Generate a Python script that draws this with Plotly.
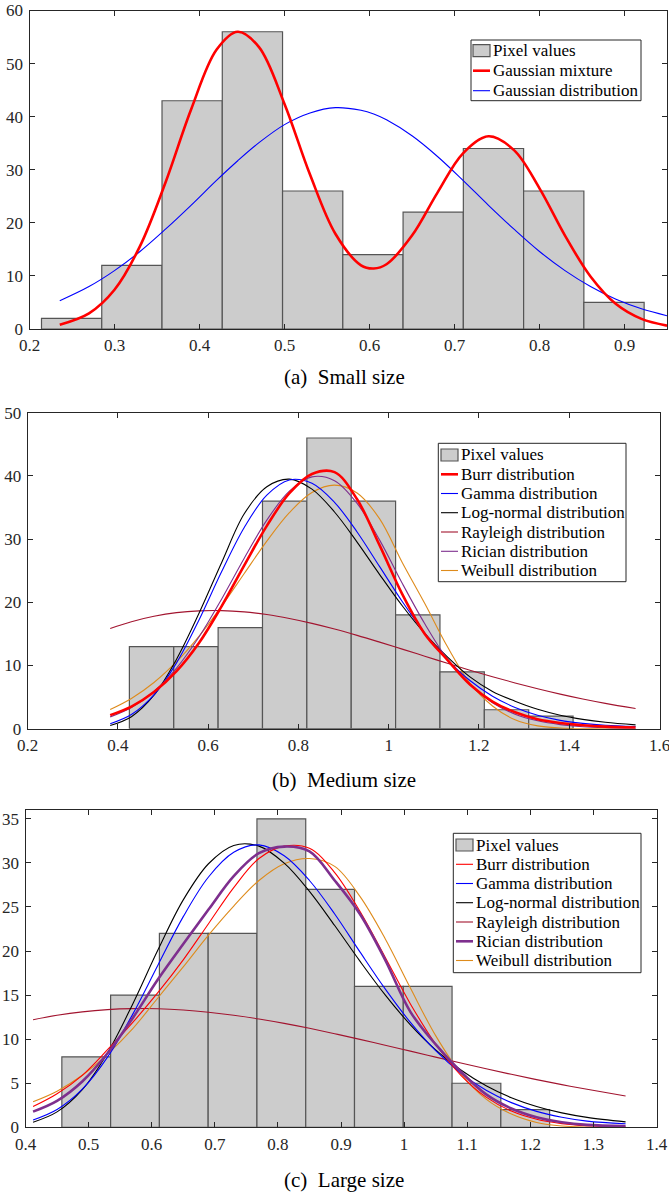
import plotly.graph_objects as go

W, H = 669, 1194

# ---------------- data ----------------
# Panel (a) Small size
edges1 = [0.2141, 0.2850, 0.3559, 0.4268, 0.4977, 0.5686, 0.6395, 0.7104, 0.7813, 0.8522, 0.9231]
counts1 = [2, 12, 43, 56, 26, 14, 22, 34, 26, 5]
x1_curve = [0.2356, 0.27, 0.30, 0.33, 0.36, 0.39, 0.42, 0.445, 0.47, 0.50, 0.53, 0.56, 0.59,
            0.605, 0.62, 0.65, 0.68, 0.71, 0.74, 0.77, 0.80, 0.83, 0.86, 0.89, 0.92, 0.95]
mixture1 = [0.82, 2.96, 7.4, 15.6, 27.6, 41.3, 52.6, 56.0, 53.1, 42.4, 29.1, 17.9, 12.0,
            11.4, 12.2, 17.6, 25.7, 33.1, 36.3, 33.7, 26.5, 17.6, 9.9, 4.7, 1.9, 0.64]
gauss1 = [5.33, 8.0, 11.0, 14.6, 18.8, 23.3, 28.0, 31.7, 35.1, 38.5, 40.7, 41.7, 41.2,
          40.5, 39.4, 36.4, 32.5, 28.0, 23.3, 18.8, 14.6, 11.0, 8.0, 5.6, 3.8, 2.5]

# Panel (b) Medium size
edges2 = [0.4255, 0.5238, 0.6221, 0.7204, 0.8187, 0.9170, 1.0153, 1.1136, 1.2119, 1.3102, 1.4085]
counts2 = [13, 13, 16, 36, 46, 36, 18, 9, 3, 2]
x2_curve = [0.383, 0.43, 0.48, 0.53, 0.58, 0.63, 0.68, 0.73, 0.78, 0.83, 0.88, 0.93,
            0.98, 1.03, 1.08, 1.13, 1.18, 1.23, 1.28, 1.33, 1.38, 1.43, 1.48, 1.547]
burr2 = [2.15, 3.5, 5.8, 9.1, 13.6, 19.4, 25.85, 32.1, 37.26, 40.3, 40.6, 36.3,
         29.0, 21.3, 15.0, 10.9, 7.0, 4.3, 2.6, 1.5, 0.9, 0.55, 0.33, 0.2]
gamma2 = [0.79, 2.24, 5.35, 10.42, 17.24, 24.86, 31.83, 36.96, 39.36, 38.82, 35.81, 31.13,
          25.64, 20.13, 15.14, 10.94, 7.62, 5.14, 3.36, 2.13, 1.32, 0.85, 0.55, 0.35]
logn2 = [0.51, 1.90, 5.30, 11.0, 18.3, 26.3, 34.0, 38.29, 39.49, 37.91, 34.29, 29.53,
         24.39, 19.45, 15.06, 11.37, 8.2, 5.9, 4.36, 3.07, 2.14, 1.48, 1.01, 0.60]
rayl2 = [15.87, 16.93, 17.78, 18.36, 18.65, 18.69, 18.48, 18.06, 17.44, 16.67, 15.77, 14.77,
         13.70, 12.59, 11.47, 10.35, 9.26, 8.22, 7.24, 6.32, 5.47, 4.70, 4.01, 3.19]
rice2 = [1.87, 3.37, 5.89, 9.59, 14.54, 20.53, 26.97, 33.0, 37.58, 39.85, 39.25, 35.65,
         29.84, 23.01, 16.6, 11.0, 7.0, 4.1, 2.3, 1.25, 0.65, 0.32, 0.16, 0.07]
weib2 = [3.04, 4.79, 7.31, 10.60, 14.66, 19.40, 24.55, 29.68, 34.19, 37.37, 38.54, 37.3,
         33.2, 26.3, 19.8, 13.0, 7.2, 3.6, 1.4, 0.45, 0.12, 0.03, 0.0, 0.0]

# Panel (c) Large size
edges3 = [0.4576, 0.5349, 0.6122, 0.6895, 0.7668, 0.8441, 0.9214, 0.9987, 1.0760, 1.1533, 1.2306]
counts3 = [8, 15, 22, 22, 35, 27, 16, 16, 5, 2]
x3_curve = [0.412, 0.45, 0.49, 0.53, 0.57, 0.61, 0.65, 0.69, 0.73, 0.77, 0.81, 0.85,
            0.89, 0.93, 0.97, 1.01, 1.05, 1.09, 1.13, 1.17, 1.21, 1.25, 1.29, 1.351]
burr3 = [2.35, 3.8, 5.9, 8.8, 11.9, 15.3, 19.0, 23.1, 27.2, 30.5, 31.9, 31.65,
         28.9, 24.5, 19.3, 14.0, 9.45, 5.9, 3.42, 1.84, 0.91, 0.42, 0.18, 0.04]
gamma3 = [0.82, 2.01, 4.32, 7.96, 12.84, 18.42, 23.9, 28.4, 31.2, 32.04, 30.8, 28.0,
          24.2, 19.9, 15.7, 11.9, 8.69, 6.14, 4.20, 2.80, 1.81, 1.14, 0.70, 0.40]
logn3 = [0.58, 1.75, 4.28, 8.44, 14.0, 20.14, 25.8, 29.9, 31.98, 31.9, 29.97, 26.77,
         22.89, 18.85, 15.02, 11.63, 8.79, 6.50, 4.72, 3.36, 2.37, 1.64, 1.13, 0.62]
rayl3 = [12.21, 12.71, 13.10, 13.35, 13.46, 13.45, 13.31, 13.06, 12.72, 12.29, 11.79, 11.23,
         10.62, 9.98, 9.31, 8.64, 7.96, 7.30, 6.64, 6.01, 5.41, 4.84, 4.31, 3.56]
rice3 = [1.78, 3.0, 5.2, 8.4, 12.4, 16.8, 20.8, 24.7, 28.5, 31.1, 31.85, 31.3,
         28.0, 24.2, 19.0, 13.1, 9.4, 6.3, 3.74, 2.14, 1.14, 0.57, 0.27, 0.13]
weib3 = [2.9, 4.1, 5.9, 8.3, 11.2, 14.7, 18.2, 21.8, 25.1, 28.0, 29.9, 30.5,
         29.6, 26.2, 21.4, 15.8, 10.4, 6.1, 3.2, 1.5, 0.55, 0.15, 0.03, 0.0]

# tick labels
xt1 = [0.2, 0.3, 0.4, 0.5, 0.6, 0.7, 0.8, 0.9]
xl1 = ["0.2", "0.3", "0.4", "0.5", "0.6", "0.7", "0.8", "0.9"]
yt1 = [0, 10, 20, 30, 40, 50, 60]
xt2 = [0.2, 0.4, 0.6, 0.8, 1.0, 1.2, 1.4, 1.6]
xl2 = ["0.2", "0.4", "0.6", "0.8", "1", "1.2", "1.4", "1.6"]
yt2 = [0, 10, 20, 30, 40, 50]
xt3 = [0.4, 0.5, 0.6, 0.7, 0.8, 0.9, 1.0, 1.1, 1.2, 1.3, 1.4]
xl3 = ["0.4", "0.5", "0.6", "0.7", "0.8", "0.9", "1", "1.1", "1.2", "1.3", "1.4"]
yt3 = [0, 5, 10, 15, 20, 25, 30, 35]

captions = ["(a)\u00a0 Small size", "(b)\u00a0 Medium size", "(c)\u00a0 Large size"]

# colours
RED = "#ff0000"
BLUE = "#0000ff"
BLACK = "#000000"
RAYL = "#a2142f"
RICE = "#7e2f8e"
WEIB = "#de8b1c"
BAR_FILL = "#cccccc"
BAR_EDGE = "#555555"
AX = "#262626"
SERIF = "Liberation Serif, 'Times New Roman', Times, 'DejaVu Serif', serif"

# ---------------- figure ----------------
def px(x):
    return x / W


def py(y):
    return 1 - y / H


fig = go.Figure()


def add_hist(edges, counts, xa, ya):
    centers = [(edges[i] + edges[i + 1]) / 2 for i in range(len(counts))]
    widths = [edges[i + 1] - edges[i] for i in range(len(counts))]
    fig.add_trace(go.Bar(x=centers, y=counts, width=widths, xaxis=xa, yaxis=ya,
                         marker=dict(color=BAR_FILL, line=dict(color=BAR_EDGE, width=1.2)),
                         showlegend=False, hoverinfo="skip"))


def add_curve(x, y, color, width, xa, ya):
    fig.add_trace(go.Scatter(x=x, y=y, mode="lines", xaxis=xa, yaxis=ya,
                             line=dict(color=color, width=width, shape="spline", smoothing=1.0),
                             showlegend=False, hoverinfo="skip"))


# panel (a)
add_hist(edges1, counts1, "x", "y")
add_curve(x1_curve, gauss1, BLUE, 1.1, "x", "y")
add_curve(x1_curve, mixture1, RED, 2.6, "x", "y")

# panel (b)
add_hist(edges2, counts2, "x2", "y2")
add_curve(x2_curve, rayl2, RAYL, 1.1, "x2", "y2")
add_curve(x2_curve, weib2, WEIB, 1.1, "x2", "y2")
add_curve(x2_curve, logn2, BLACK, 1.1, "x2", "y2")
add_curve(x2_curve, gamma2, BLUE, 1.1, "x2", "y2")
add_curve(x2_curve, rice2, RICE, 1.1, "x2", "y2")
add_curve(x2_curve, burr2, RED, 2.6, "x2", "y2")

# panel (c)
add_hist(edges3, counts3, "x3", "y3")
add_curve(x3_curve, rayl3, RAYL, 1.1, "x3", "y3")
add_curve(x3_curve, weib3, WEIB, 1.1, "x3", "y3")
add_curve(x3_curve, logn3, BLACK, 1.1, "x3", "y3")
add_curve(x3_curve, gamma3, BLUE, 1.1, "x3", "y3")
add_curve(x3_curve, burr3, RED, 1.1, "x3", "y3")
add_curve(x3_curve, rice3, RICE, 2.6, "x3", "y3")


def axis(domain, rng, tickvals, ticktext=None, anchor=None, is_x=False):
    d = dict(domain=domain, range=rng, tickmode="array", tickvals=tickvals,
             showgrid=False, zeroline=False, showline=True, linecolor=AX, linewidth=1,
             mirror="ticks", ticks="inside", ticklen=5, tickwidth=1, tickcolor=AX,
             tickfont=dict(family=SERIF, size=17, color=AX), automargin=False,
             fixedrange=True, anchor=anchor)
    if ticktext is not None:
        d["ticktext"] = ticktext
    if is_x:
        d["ticklabeloverflow"] = "allow"
        d["ticklabelstandoff"] = 1
    else:
        d["ticklabelstandoff"] = 2
    return d


# pixel boxes of the three plot areas: (left, right, top, bottom)
box1 = (29.5, 667.0, 10.5, 329.0)
box2 = (27.6, 659.5, 412.7, 728.7)
box3 = (25.5, 656.5, 810.0, 1127.3)

fig.update_layout(
    width=W, height=H, autosize=False,
    margin=dict(l=0, r=0, t=0, b=0),
    paper_bgcolor="white", plot_bgcolor="white",
    barmode="overlay", bargap=0,
    xaxis=axis([px(box1[0]), px(box1[1])], [0.2, 0.95], xt1, xl1, "y", True),
    yaxis=axis([py(box1[3]), py(box1[2])], [0, 60], yt1, None, "x"),
    xaxis2=axis([px(box2[0]), px(box2[1])], [0.2, 1.6], xt2, xl2, "y2", True),
    yaxis2=axis([py(box2[3]), py(box2[2])], [0, 50], yt2, None, "x2"),
    xaxis3=axis([px(box3[0]), px(box3[1])], [0.4, 1.4], xt3, xl3, "y3", True),
    yaxis3=axis([py(box3[3]), py(box3[2])], [0, 36], yt3, None, "x3"),
)

shapes = []
annotations = []


def add_legend(box, rows, sym_x, text_x, items):
    x0, y0, x1, y1 = box
    shapes.append(dict(type="rect", xref="paper", yref="paper",
                       x0=px(x0), x1=px(x1), y0=py(y1), y1=py(y0),
                       fillcolor="white", line=dict(color=AX, width=1), layer="above"))
    for (label, kind, color, width), ry in zip(items, rows):
        if kind == "bar":
            shapes.append(dict(type="rect", xref="paper", yref="paper",
                               x0=px(sym_x[0]), x1=px(sym_x[1]), y0=py(ry + 6), y1=py(ry - 6),
                               fillcolor=BAR_FILL, line=dict(color=BAR_EDGE, width=1.2), layer="above"))
        else:
            shapes.append(dict(type="line", xref="paper", yref="paper",
                               x0=px(sym_x[0]), x1=px(sym_x[1]), y0=py(ry), y1=py(ry),
                               line=dict(color=color, width=width), layer="above"))
        annotations.append(dict(text=label, xref="paper", yref="paper", x=px(text_x), y=py(ry),
                                xanchor="left", yanchor="middle", showarrow=False,
                                font=dict(family=SERIF, size=17, color="black")))


add_legend((471, 40, 641, 100.7), [50.7, 70.7, 90.7], (473, 490), 491,
           [("Pixel values", "bar", None, None),
            ("Gaussian mixture", "line", RED, 2.6),
            ("Gaussian distribution", "line", BLUE, 1.1)])

items2 = [("Pixel values", "bar", None, None),
          ("Burr distribution", "line", RED, 2.6),
          ("Gamma distribution", "line", BLUE, 1.1),
          ("Log-normal distribution", "line", BLACK, 1.1),
          ("Rayleigh distribution", "line", RAYL, 1.1),
          ("Rician distribution", "line", RICE, 1.1),
          ("Weibull distribution", "line", WEIB, 1.1)]
add_legend((438.3, 443.3, 626, 581.7), [455, 474.3, 493.5, 512.7, 532, 551.3, 570.5],
           (441, 458), 459, items2)

items3 = [("Pixel values", "bar", None, None),
          ("Burr distribution", "line", RED, 1.1),
          ("Gamma distribution", "line", BLUE, 1.1),
          ("Log-normal distribution", "line", BLACK, 1.1),
          ("Rayleigh distribution", "line", RAYL, 1.1),
          ("Rician distribution", "line", RICE, 2.6),
          ("Weibull distribution", "line", WEIB, 1.1)]
add_legend((453.3, 833.3, 641, 972.7), [845, 864.3, 883.5, 902.7, 922, 941.3, 960.5],
           (456, 473), 474, items3)

for cap, cy in zip(captions, [377, 780, 1180]):
    annotations.append(dict(text=cap, xref="paper", yref="paper", x=px(344), y=py(cy),
                            xanchor="center", yanchor="middle", showarrow=False,
                            font=dict(family=SERIF, size=21, color="black")))

fig.update_layout(shapes=shapes, annotations=annotations)

# remove the default 8px page margin so the figure sits at the window's top-left corner
fig.write_html("out.html",
               config={"displayModeBar": False, "staticPlot": True},
               post_script="document.body.style.margin='0';document.body.style.padding='0';")
